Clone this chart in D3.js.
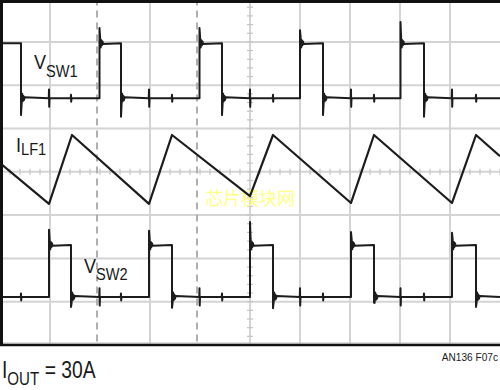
<!DOCTYPE html>
<html><head><meta charset="utf-8">
<script src="https://cdn.jsdelivr.net/npm/d3@7"></script>
<style>
html,body{margin:0;padding:0;background:#fff;}
svg{display:block;}
text{font-family:"Liberation Sans",Arial,sans-serif;fill:#1a1a1a;}
</style></head>
<body>
<svg id="c" width="500" height="390"></svg>
<script>
// ---- data (time in divisions, level in divisions from bottom) ----
const xDivisions = [0, 10];
const yDivisions = [0, 8];
const cursorTimes = [1.94, 3.94];

// VSW1 switch node
const vsw1High = 6.97, vsw1Low = 5.70;
const vsw1Rise = [1.99, 3.99, 6.00, 8.01];
const vsw1RiseSpike = [7.32, 7.32, 7.27, 7.46];
const vsw1Fall = [0.42, 2.42, 4.44, 6.46, 8.48];
const vsw1FallSpike = [5.31, 5.27, 5.31, 5.31, 5.27];

// VSW2 switch node
const vsw2High = 2.31, vsw2Low = 1.11;
const vsw2Rise = [0.98, 2.98, 5.00, 7.02, 9.04];
const vsw2RiseSpike = [2.66, 2.64, 2.84, 2.61, 2.59];
const vsw2Fall = [1.42, 3.44, 5.46, 7.48, 9.52];
const vsw2FallSpike = [0.88, 0.86, 0.85, 0.98, 0.88];

// crosstalk spike amplitudes (divisions)
const xtalkOnRise = 0.2, xtalkOnFall = 0.08;
const ringing = [0.14, -0.10, 0.07, -0.05, 0.04, -0.02];

// ILF1 inductor current vertices
const ilfTime  = [0.00, 0.98, 1.44, 2.98, 3.44, 5.00, 5.46, 7.02, 7.48, 9.04, 9.52, 10.0];
const ilfLevel = [4.20, 3.26, 4.85, 3.26, 4.85, 3.44, 4.85, 3.28, 4.85, 3.28, 4.85, 4.36];

// ---- scales ----
const x = d3.scaleLinear().domain(xDivisions).range([0, 500]);
const y = d3.scaleLinear().domain(yDivisions).range([345, -1.4]);

const svg = d3.select("#c");

// grid
const gridX = d3.range(1, 10).filter(d => d !== 2 && d !== 4);
const gridY = d3.range(1, 8);
svg.append("g").selectAll("line").data(gridX).join("line")
  .attr("x1", d => x(d)).attr("x2", d => x(d)).attr("y1", y(8)).attr("y2", y(0))
  .attr("stroke", "#d4d4d4").attr("stroke-width", 2);
svg.append("g").selectAll("line").data(gridY).join("line")
  .attr("y1", d => y(d)).attr("y2", d => y(d)).attr("x1", x(0)).attr("x2", x(10))
  .attr("stroke", "#d4d4d4").attr("stroke-width", 2);
// cursors (dashed)
svg.append("g").selectAll("line").data(cursorTimes).join("line")
  .attr("x1", d => x(d)).attr("x2", d => x(d)).attr("y1", y(8)).attr("y2", y(0))
  .attr("stroke", "#b0b0b0").attr("stroke-width", 2).attr("stroke-dasharray", "7,5");

// minor ticks on center axes
const minorX = d3.range(0, 10.01, 0.2);
const minorY = d3.range(0, 8.01, 0.2);
svg.append("g").selectAll("line").data(minorX).join("line")
  .attr("x1", d => x(d)).attr("x2", d => x(d)).attr("y1", y(4) - 3).attr("y2", y(4) + 3)
  .attr("stroke", "#c4c4c4").attr("stroke-width", 1.2);
svg.append("g").selectAll("line").data(minorY).join("line")
  .attr("y1", d => y(d)).attr("y2", d => y(d)).attr("x1", x(5) - 3).attr("x2", x(5) + 3)
  .attr("stroke", "#c4c4c4").attr("stroke-width", 1.2);
svg.append("g").selectAll("line").data(minorX).join("line")
  .attr("x1", d => x(d) - 5).attr("x2", d => x(d) + 5).attr("y1", y(0) - 2).attr("y2", y(0) - 2)
  .attr("stroke", "#c8c8c8").attr("stroke-width", 1.2);

// watermark
svg.append("text").attr("x", x(5)).attr("y", y(3.24))
  .attr("text-anchor", "middle")
  .style("font-family", "'Noto Sans CJK SC',sans-serif")
  .style("font-size", "18px").style("fill", "#ffff88")
  .text("芯片模块网");

// build switch-node waveform points
function buildSwitch(rises, riseSpk, falls, fallSpk, hi, lo, xtRise, xtFall, startHigh) {
  const ev = [];
  rises.forEach((t, i) => ev.push({t, type: "rise", s: riseSpk[i]}));
  falls.forEach((t, i) => ev.push({t, type: "fall", s: fallSpk[i]}));
  xtRise.forEach(t => ev.push({t, type: "xr"}));
  xtFall.forEach(t => ev.push({t, type: "xf"}));
  ev.sort((a, b) => a.t - b.t);
  let level = startHigh ? hi : lo;
  const pts = [[0, level]];
  const dt = 0.012;
  ev.forEach(e => {
    if (e.type === "rise") {
      pts.push([e.t, lo], [e.t, e.s]);
      ringing.forEach((r, k) => pts.push([e.t + dt * (k + 1), hi + r]));
      level = hi;
    } else if (e.type === "fall") {
      pts.push([e.t, hi], [e.t, e.s]);
      ringing.forEach((r, k) => pts.push([e.t + dt * (k + 1), lo - r]));
      level = lo;
    } else {
      const a = e.type === "xr" ? xtalkOnRise : xtalkOnFall;
      pts.push([e.t - 0.005, level], [e.t, level + a], [e.t + 0.004, level - a], [e.t + 0.01, level]);
    }
  });
  pts.push([10, level]);
  return pts;
}

const line = d3.line().x(d => x(d[0])).y(d => y(d[1]));
const vsw1 = buildSwitch(vsw1Rise, vsw1RiseSpike, vsw1Fall, vsw1FallSpike, vsw1High, vsw1Low, vsw2Rise, vsw2Fall, true);
const vsw2 = buildSwitch(vsw2Rise, vsw2RiseSpike, vsw2Fall, vsw2FallSpike, vsw2High, vsw2Low, vsw1Rise, vsw1Fall, false);
const ilf = ilfTime.map((t, i) => [t, ilfLevel[i]]);

const traces = svg.append("g").attr("fill", "none").attr("stroke", "#1c1c1c")
  .attr("stroke-linejoin", "round");
traces.append("path").attr("d", line(vsw1)).attr("stroke-width", 2);
traces.append("path").attr("d", line(vsw2)).attr("stroke-width", 2);
traces.append("path").attr("d", line(ilf)).attr("stroke-width", 2.2);

// frame (top, left, bottom)
svg.append("line").attr("x1", 0).attr("x2", 500).attr("y1", 1.5).attr("y2", 1.5)
  .attr("stroke", "#111").attr("stroke-width", 3);
svg.append("line").attr("x1", 1.5).attr("x2", 1.5).attr("y1", 0).attr("y2", y(0) + 1)
  .attr("stroke", "#111").attr("stroke-width", 3);
svg.append("line").attr("x1", 0).attr("x2", 500).attr("y1", y(0)).attr("y2", y(0))
  .attr("stroke", "#111").attr("stroke-width", 2.5);

// labels with subscripts (condensed by horizontal scaling)
function label(px, py, main, sub, size, subSize, drop, sx) {
  const t = svg.append("text").attr("transform", `translate(${px},${py}) scale(${sx},1)`)
    .style("font-size", size + "px");
  t.append("tspan").text(main);
  t.append("tspan").attr("dy", drop).style("font-size", subSize + "px").text(sub);
  return t;
}
label(34, 69, "V", "SW1", 21, 17, 8, 0.86);
label(16, 152, "I", "LF1", 21, 17, 3, 0.86);
label(84, 273, "V", "SW2", 21, 17, 7, 0.86);
const io = label(2, 378, "I", "OUT", 23, 18, 7, 0.84);
io.append("tspan").attr("dy", -7).text(" = 30A");
svg.append("text").attr("transform", "translate(498,361) scale(0.88,1)").attr("text-anchor", "end")
  .style("font-size", "11.5px").text("AN136 F07c");
</script>
</body></html>
